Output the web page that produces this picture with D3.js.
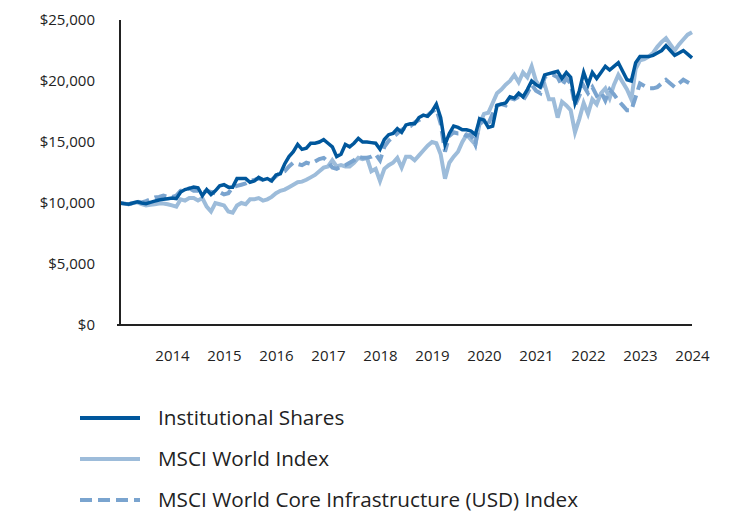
<!DOCTYPE html>
<html><head><meta charset="utf-8">
<script src="https://cdn.jsdelivr.net/npm/d3@7"></script>
<style>body{margin:0;background:#fff}svg{display:block}text{font-family:"Open Sans",sans-serif;fill:#222}</style>
</head><body><svg id="c" width="732" height="516"></svg>
<script>
const yearLabels = ["2014","2015","2016","2017","2018","2019","2020","2021","2022","2023","2024"];
const yTicks = [0,5000,10000,15000,20000,25000];
const seriesNames = ["Institutional Shares","MSCI World Index","MSCI World Core Infrastructure (USD) Index"];
// values in $ thousands, monthly
const institutional = [10.0,9.95,9.9,10.0,10.1,10.0,9.95,10.05,10.15,10.25,10.3,10.35,10.4,10.35,10.9,11.1,11.2,11.3,11.25,10.6,11.1,10.7,11.0,11.4,11.5,11.3,11.3,12.0,12.0,12.0,11.7,11.8,12.1,11.9,12.0,11.8,12.3,12.4,13.2,13.8,14.2,14.8,14.4,14.5,14.9,14.9,15.0,15.2,14.9,14.6,13.8,14.0,14.8,14.6,14.9,15.3,15.0,15.0,14.95,14.9,14.4,15.2,15.6,15.7,16.1,15.8,16.4,16.5,16.5,17.0,17.2,17.1,17.5,18.1,17.0,14.8,15.7,16.3,16.2,16.0,16.0,15.9,15.6,16.9,16.8,16.2,16.3,18.0,18.1,18.2,18.7,18.6,19.0,18.7,19.3,20.0,19.7,19.5,20.5,20.6,20.7,20.8,20.2,20.7,20.3,18.2,19.2,20.7,19.7,20.7,20.2,20.7,21.2,20.9,21.2,21.5,20.8,20.1,20.0,21.5,22.0,22.0,22.0,22.1,22.3,22.5,22.9,22.5,22.1,22.3,22.5,22.2,21.9];
const msciWorld = [10.0,9.95,9.9,10.0,10.05,9.9,9.8,9.85,9.9,9.95,9.95,9.9,9.8,9.7,10.3,10.2,10.4,10.4,10.2,10.4,9.7,9.3,10.0,9.9,9.8,9.3,9.2,9.8,10.0,9.9,10.3,10.3,10.4,10.2,10.3,10.5,10.8,11.0,11.1,11.3,11.5,11.7,11.75,11.9,12.1,12.3,12.6,12.9,13.0,13.5,13.0,13.1,13.0,13.0,13.3,13.7,13.6,13.7,12.6,12.8,11.8,12.8,13.1,13.3,13.7,12.9,13.8,13.8,13.5,13.9,14.3,14.7,15.0,14.9,14.0,12.0,13.3,13.8,14.2,15.0,15.6,15.2,14.8,16.5,17.3,17.4,18.2,19.0,19.3,19.7,20.0,20.5,19.9,20.7,20.3,21.2,20.0,19.5,19.7,18.5,18.5,17.0,18.3,18.0,17.6,15.8,16.9,18.2,17.3,18.5,18.1,19.0,19.4,18.6,19.7,20.5,19.9,19.3,18.5,21.0,21.7,21.8,22.0,22.3,22.8,23.2,23.5,23.0,22.5,23.0,23.4,23.8,24.0];
const coreInfra = [10.0,9.95,9.9,10.0,10.1,10.05,10.15,10.3,10.45,10.5,10.6,10.5,10.5,10.6,11.0,11.1,11.2,11.0,11.0,10.8,11.0,10.9,10.8,10.9,10.7,10.8,11.3,11.4,11.5,11.6,11.8,11.9,12.0,11.9,11.8,11.9,12.2,12.5,12.6,13.0,13.3,13.2,13.1,13.3,13.2,13.4,13.6,13.7,13.4,12.9,12.8,13.0,13.1,13.3,13.5,13.8,13.7,13.7,13.8,14.0,13.5,14.6,15.1,15.4,15.7,16.0,16.2,16.3,16.6,16.8,17.0,17.2,17.5,17.7,16.5,14.2,15.5,15.8,15.7,15.7,15.5,15.6,14.8,16.8,16.4,16.5,17.3,18.0,18.1,18.0,18.6,18.5,18.7,18.4,19.0,19.7,19.2,19.0,20.3,20.5,20.5,20.3,19.6,20.2,19.8,18.0,18.8,19.6,19.0,19.5,18.8,19.1,18.4,19.3,18.9,18.4,18.0,17.6,17.6,18.7,19.8,19.6,19.4,19.4,19.5,19.8,20.1,19.8,19.5,19.8,20.1,19.9,19.7];

const colors = ["#00579c","#9dbcda","#7aa4cf"];
const svg = d3.select("#c");
const M = {left: 120, right: 692, top: 20, bottom: 325};
const n = institutional.length;
const x = d3.scaleLinear().domain([0, n-1]).range([M.left, M.right]);
const y = d3.scaleLinear().domain([0, 25000]).range([M.bottom, M.top]);

// y labels
const yAxis = d3.axisLeft(y).tickValues(yTicks).tickSize(0).tickPadding(25).tickFormat(d => "$" + d3.format(",")(d));
const gy = svg.append("g").attr("transform", `translate(${M.left},0)`).call(yAxis);
gy.select(".domain").remove();
gy.selectAll("text").attr("font-size", 15).style("font-family", '"Open Sans",sans-serif').attr("fill", "#222");

// x labels
const xAxis = d3.axisBottom(x).tickValues(yearLabels.map((d,i) => (i+1)*12)).tickSize(0).tickPadding(25).tickFormat((d,i) => yearLabels[i]);
const gx = svg.append("g").attr("transform", `translate(0,${M.bottom})`).call(xAxis);
gx.select(".domain").remove();
gx.selectAll("text").attr("font-size", 15).style("font-family", '"Open Sans",sans-serif').attr("fill", "#222");

const line = d3.line().x((d,i) => x(i)).y(d => y(d*1000));
const order = [1,2,0];
const data = [institutional, msciWorld, coreInfra];
order.forEach(k => {
  svg.append("path").datum(data[k]).attr("d", line).attr("fill","none")
    .attr("stroke", colors[k]).attr("stroke-width", k===0 ? 3.5 : 4)
    .attr("stroke-linejoin","miter").attr("stroke-dasharray", k===2 ? "12,6" : null);
});

// axes lines
svg.append("line").attr("x1", M.left).attr("x2", M.left).attr("y1", M.top).attr("y2", M.bottom).attr("stroke","#222").attr("stroke-width",2);
svg.append("line").attr("x1", M.left-3).attr("x2", M.right).attr("y1", M.bottom).attr("y2", M.bottom).attr("stroke","#222").attr("stroke-width",2);

// legend
const ly = [418, 459, 500];
seriesNames.forEach((name, k) => {
  svg.append("line").attr("x1",80).attr("x2",140).attr("y1",ly[k]).attr("y2",ly[k])
    .attr("stroke",colors[k]).attr("stroke-width",4).attr("stroke-dasharray", k===2 ? "12,6" : null);
  svg.append("text").attr("x",158).attr("y",ly[k]).attr("dy","0.35em").attr("font-size",20.7).text(name);
});
</script></body></html>
